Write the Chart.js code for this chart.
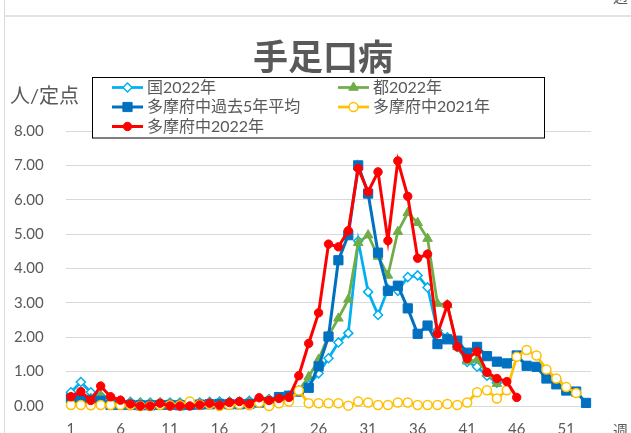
<!DOCTYPE html>
<html><head><meta charset="utf-8">
<script src="https://cdn.jsdelivr.net/npm/chart.js@4"></script>
<style>html,body{margin:0;padding:0;background:#fff;overflow:hidden}canvas{display:block}</style>
</head><body>
<canvas id="c" width="631" height="433"></canvas>
<script>
const weeks = ['1','2','3','4','5','6','7','8','9','10','11','12','13','14','15','16','17','18','19','20','21','22','23','24','25','26','27','28','29','30','31','32','33','34','35','36','37','38','39','40','41','42','43','44','45','46','47','48','49','50','51','52','53'];
const shownWeekLabels = ['1','6','11','16','21','26','31','36','41','46','51'];
const yTickValues = [0,1,2,3,4,5,6,7,8];

const kuni2022 = [0.40,0.70,0.40,0.30,0.22,0.15,0.12,0.10,0.10,0.10,0.10,0.10,0.10,0.10,0.12,0.13,0.13,0.13,0.15,0.18,0.20,0.25,0.30,0.42,0.61,0.95,1.39,1.85,2.12,4.80,3.32,2.65,3.40,3.35,3.75,3.80,3.45,2.20,2.00,1.72,1.28,1.14,0.88,0.68];
const to2022 = [0.25,0.32,0.22,0.30,0.20,0.12,0.08,0.08,0.07,0.08,0.07,0.07,0.08,0.08,0.08,0.09,0.10,0.10,0.10,0.15,0.18,0.22,0.27,0.45,0.85,1.35,2.05,2.55,3.10,4.75,4.97,4.35,3.80,5.07,5.62,5.33,4.87,2.98,2.94,1.72,1.30,1.34,0.95,0.65];
const fuchuAvg5 = [0.22,0.20,0.18,0.15,0.03,0.03,0.03,0.02,0.02,0.03,0.03,0.02,0.03,0.04,0.05,0.06,0.05,0.05,0.06,0.10,0.12,0.26,0.30,0.42,0.53,1.15,2.02,4.24,4.97,7.00,6.18,4.46,3.35,3.50,2.84,2.10,2.34,1.80,1.94,1.90,1.55,1.72,1.45,1.29,1.24,1.47,1.17,1.14,0.80,0.63,0.45,0.42,0.09];
const fuchu2021 = [0.03,0.03,0.02,0.03,0.03,0.03,0.02,0.00,0.00,0.03,0.02,0.02,0.13,0.04,0.05,0.00,0.03,0.05,0.02,0.10,0.00,0.08,0.13,0.45,0.08,0.08,0.08,0.08,0.01,0.13,0.10,0.03,0.03,0.10,0.10,0.03,0.03,0.03,0.06,0.03,0.10,0.40,0.46,0.22,0.46,1.43,1.63,1.47,1.06,0.80,0.55,0.38];
const fuchu2022 = [0.27,0.42,0.16,0.58,0.27,0.17,0.06,0.00,0.00,0.08,0.00,0.00,0.00,0.03,0.08,0.02,0.10,0.13,0.06,0.24,0.16,0.22,0.25,0.88,1.82,2.71,4.71,4.63,5.10,6.91,6.23,6.81,4.81,7.13,6.10,4.30,4.42,2.10,2.94,1.72,1.38,1.58,0.98,0.80,0.71,0.25];

const FONT = "Lato, 'Noto Sans CJK JP', sans-serif";
const TXT = '#595959';

const series = [
  {label:'国2022年', data:kuni2022, color:'#00B0F0', fill:'#FFFFFF', style:'rectRot', r:4.5, bw:1.5, lw:2.75, order:5},
  {label:'都2022年', data:to2022, color:'#70AD47', fill:'#70AD47', style:'triangle', r:5.5, bw:1, lw:2.75, order:4},
  {label:'多摩府中過去5年平均', data:fuchuAvg5, color:'#0070C0', fill:'#0070C0', style:'rect', r:6.5, bw:1, lw:3, order:3},
  {label:'多摩府中2021年', data:fuchu2021, color:'#FFC000', fill:'#FFFFFF', style:'circle', r:4.5, bw:1.5, lw:2.75, order:2},
  {label:'多摩府中2022年', data:fuchu2022, color:'#FF0000', fill:'#FF0000', style:'circle', r:4.2, bw:1, lw:3, order:1}
];

// measure y tick label width so labels end at x≈44
const mctx = document.createElement('canvas').getContext('2d');
mctx.font = "15px " + FONT;
const yLabelW = Math.round(mctx.measureText('8.00').width);
const yLabelLeft = 44 - yLabelW;

const deco = {
  id:'deco',
  beforeDraw(chart){
    const ctx = chart.ctx;
    ctx.save();
    ctx.fillStyle = '#fff';
    ctx.fillRect(0,0,chart.width,chart.height);
    ctx.fillStyle = '#e3e3e3';
    ctx.fillRect(5,15,chart.width-5,2);
    ctx.fillStyle = '#d9d9d9';
    ctx.fillRect(4,0,1,chart.height);
    ctx.restore();
  },
  afterDraw(chart){
    const ctx = chart.ctx;
    ctx.save();
    ctx.fillStyle = TXT;
    ctx.font = "15px " + FONT;
    ctx.textAlign = 'left';
    ctx.textBaseline = 'bottom';
    ctx.fillText('週', 613, 5);
    ctx.font = "bold 35px 'Noto Sans CJK JP', sans-serif";
    ctx.textAlign = 'center';
    ctx.textBaseline = 'middle';
    ctx.fillText('手足口病', 323, 57);
    ctx.font = "20px " + FONT;
    ctx.textAlign = 'left';
    ctx.fillText('人/定点', 10, 97);
    ctx.font = "15px " + FONT;
    ctx.textBaseline = 'top';
    ctx.fillText('週', 613, 424);
    ctx.fillStyle = '#fff';
    ctx.fillRect(92.5,77.5,452,60.5);
    ctx.strokeStyle = '#000';
    ctx.lineWidth = 1;
    ctx.strokeRect(92.5,77.5,452,60.5);
    const pos = [[112,87.5],[338,87.5],[112,107],[338,107],[112,126.5]];
    series.forEach((s,i)=>{
      const [x,y] = pos[i];
      ctx.strokeStyle = s.color;
      ctx.lineWidth = s.lw;
      ctx.beginPath(); ctx.moveTo(x,y); ctx.lineTo(x+31,y); ctx.stroke();
      ctx.fillStyle = s.fill;
      ctx.lineWidth = s.bw;
      Chart.helpers.drawPoint(ctx,{pointStyle:s.style, radius:s.r, rotation:0, borderWidth:s.bw}, x+15.5, y);
      ctx.fillStyle = TXT;
      ctx.font = "16px " + FONT;
      ctx.textAlign = 'left';
      ctx.textBaseline = 'middle';
      ctx.fillText(s.label, x+35, y);
    });
    ctx.restore();
  }
};

new Chart(document.getElementById('c'), {
  type:'line',
  data:{
    labels:weeks,
    datasets:series.map(s=>({
      label:s.label, data:s.data, borderColor:s.color, backgroundColor:s.fill,
      pointBackgroundColor:s.fill, pointBorderColor:s.color, pointStyle:s.style,
      pointRadius:s.r, pointBorderWidth:s.bw, borderWidth:s.lw, tension:0,
      order:s.order, clip:false, pointHoverRadius:s.r
    }))
  },
  options:{
    responsive:false, animation:false, devicePixelRatio:1,
    layout:{padding:{top:131,left:yLabelLeft,right:40,bottom:0}},
    plugins:{legend:{display:false}, title:{display:false}, tooltip:{enabled:false}},
    scales:{
      x:{
        offset:true,
        grid:{display:false, drawTicks:false},
        border:{display:false},
        ticks:{autoSkip:false, maxRotation:0, minRotation:0, padding:14, color:TXT, font:{family:FONT,size:15},
          callback:(v,i)=> shownWeekLabels.includes(weeks[i]) ? weeks[i] : ''},
        afterFit(s){ s.height = 27; }
      },
      y:{
        min:0, max:8,
        afterBuildTicks(s){ s.ticks = yTickValues.map(v=>({value:v})); },
        grid:{color:'#d9d9d9', lineWidth:1, drawTicks:false},
        border:{display:false},
        ticks:{padding:0, crossAlign:'far', color:TXT, font:{family:FONT,size:15}, callback:v=>Number(v).toFixed(2)},
        afterFit(s){ s.width = 66 - yLabelLeft; }
      }
    }
  },
  plugins:[deco]
});
</script>
</body></html>
